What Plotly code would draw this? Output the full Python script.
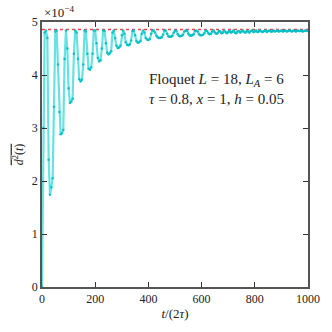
import plotly.graph_objects as go

# time in units of 2*tau (sampled every 5)
t_vals = list(range(0, 1001, 5))

# d^2(t) in units of 1e-4
d2_vals = [
    0.0, 3.0, 4.8, 4.84, 4.7, 2.4, 1.74, 1.88, 2.05, 3.4,
    4.82, 4.84, 4.2, 3.3, 2.88, 2.9, 2.96, 4.3, 4.84, 4.5,
    3.75, 3.47, 3.5, 3.55, 4.4, 4.84, 4.8, 4.3, 3.92, 3.88,
    3.91, 4.2, 4.84, 4.82, 4.4, 4.12, 4.1, 4.14, 4.4, 4.84,
    4.84, 4.6, 4.32, 4.26, 4.28, 4.5, 4.84, 4.83, 4.6, 4.42,
    4.39, 4.41, 4.45, 4.8, 4.84, 4.7, 4.55, 4.51, 4.52, 4.55,
    4.75, 4.84, 4.78, 4.62, 4.57, 4.56, 4.58, 4.65, 4.83, 4.84,
    4.75, 4.64, 4.61, 4.62, 4.64, 4.78, 4.84, 4.8, 4.7, 4.67,
    4.66, 4.68, 4.78, 4.84, 4.84, 4.8, 4.74, 4.71, 4.70, 4.70,
    4.71, 4.76, 4.84, 4.84, 4.78, 4.73, 4.72, 4.72, 4.74, 4.8,
    4.84, 4.83, 4.77, 4.74, 4.73, 4.74, 4.76, 4.82, 4.84, 4.83,
    4.78, 4.75, 4.74, 4.75, 4.77, 4.83, 4.84, 4.82, 4.77, 4.75,
    4.75, 4.76, 4.79, 4.84, 4.83, 4.79, 4.77, 4.78, 4.82, 4.84,
    4.8, 4.78, 4.79, 4.83, 4.82, 4.79, 4.80, 4.84, 4.81, 4.79,
    4.81, 4.83, 4.80, 4.81, 4.84, 4.80, 4.79, 4.82, 4.83, 4.80,
    4.82, 4.84, 4.81, 4.80, 4.83, 4.82, 4.80, 4.83, 4.84, 4.81,
    4.82, 4.84, 4.81, 4.82, 4.84, 4.82, 4.81, 4.83, 4.84, 4.81,
    4.83, 4.84, 4.82, 4.82, 4.84, 4.82, 4.83, 4.84, 4.82, 4.83,
    4.84, 4.82, 4.83, 4.84, 4.82, 4.83, 4.84, 4.83, 4.82, 4.84,
    4.83, 4.82, 4.84, 4.83, 4.83, 4.84, 4.82, 4.83, 4.84, 4.83,
    4.83,
]
assert len(d2_vals) == len(t_vals)

# saturation value (red dotted reference)
saturation = 4.86
x_ticks = [0, 200, 400, 600, 800, 1000]
y_ticks = [0, 1, 2, 3, 4, 5]

FONT = "Liberation Serif"
AX = "#555555"

fig = go.Figure()
fig.add_trace(go.Scatter(
    x=[t_vals[0], t_vals[-1]], y=[saturation, saturation], mode="lines",
    line=dict(color="#ff4040", width=1.5, dash="dot"), showlegend=False,
))
fig.add_trace(go.Scatter(
    x=t_vals, y=d2_vals, mode="lines+markers",
    line=dict(color="rgba(0,206,209,0.6)", width=2.2),
    marker=dict(color="rgba(0,190,195,0.9)", size=2.5),
    showlegend=False,
))

axis_common = dict(
    showline=True, linecolor=AX, linewidth=1.5, mirror="ticks",
    ticks="inside", ticklen=5, tickcolor="#333333", tickwidth=1,
    showgrid=False, zeroline=False,
    tickfont=dict(family=FONT, size=12, color="#222222"),
)

fig.update_layout(
    width=332, height=332,
    margin=dict(l=42, r=24, t=22, b=45),
    paper_bgcolor="white", plot_bgcolor="white",
    font=dict(family=FONT, size=12, color="#222222"),
    xaxis=dict(range=[0, 1000], tickvals=x_ticks,
               title=dict(text="<i>t</i>/(2<i>τ</i>)", standoff=4,
                          font=dict(family=FONT, size=13)),
               **axis_common),
    yaxis=dict(range=[0, 5], tickvals=y_ticks,
               title=dict(text='<span style="text-decoration:overline"><i>d</i><sup>2</sup>(<i>t</i>)</span>',
                          standoff=6, font=dict(family=FONT, size=12)),
               **axis_common),
    annotations=[
        dict(x=0, y=1, xref="paper", yref="paper", xanchor="left", yanchor="bottom",
             text="×10<sup>−4</sup>", showarrow=False, yshift=0,
             font=dict(family=FONT, size=13)),
        dict(x=396, y=3.73, xref="x", yref="y", xanchor="left", yanchor="middle",
             align="left", showarrow=False,
             text="Floquet <i>L</i> = 18, <i>L<sub>A</sub></i> = 6<br><i>τ</i> = 0.8, <i>x</i> = 1, <i>h</i> = 0.05",
             font=dict(family=FONT, size=15)),
    ],
)

fig.write_html("out.html", config={"displayModeBar": False},
               post_script="document.body.style.margin='0px';")
